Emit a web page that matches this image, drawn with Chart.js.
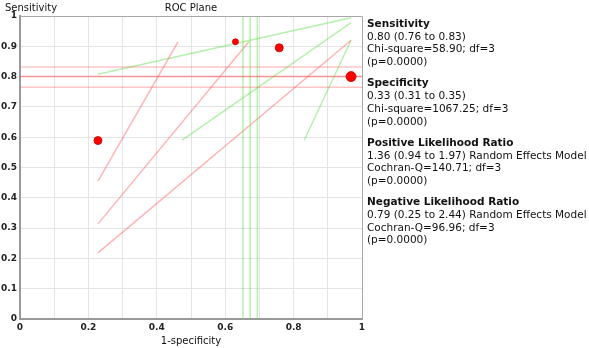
<!DOCTYPE html>
<html>
<head>
<meta charset="utf-8">
<script src="https://cdn.jsdelivr.net/npm/chart.js@4"></script>
<style>
  html, body { margin: 0; padding: 0; background: #fff; }
  #wrap { position: relative; width: 589px; height: 348px; }
  #stats { position: absolute; left: 367px; top: 17px; font-family: "DejaVu Sans", sans-serif; font-size: 10.5px; color: #111; line-height: 12.7px; }
  #stats .blk { margin-bottom: 8.6px; }
  #stats b { font-weight: bold; }
</style>
</head>
<body>
<div id="wrap">
  <canvas id="roc" width="589" height="348"></canvas>
  <div id="stats"></div>
</div>
<script>
// study points (1-specificity, sensitivity)
const studyFpr = [0.228, 0.63, 0.758, 0.968];
const studySens = [0.589, 0.915, 0.895, 0.80];

// pooled sensitivity: estimate, lower, upper
const pooledSens = [0.80, 0.765, 0.832];
// pooled 1-specificity: lower, estimate, upper
const pooledFpr = [0.652, 0.673, 0.694];

// LR+ lines (x0, y0, x1, y1)
const lrPosLines = [
    [0.228, 0.455, 0.462, 0.915],
    [0.228, 0.314, 0.669, 0.915],
    [0.228, 0.218, 0.968, 0.920]
];
// LR- lines
const lrNegLines = [
    [0.228, 0.808, 0.968, 0.994],
    [0.474, 0.590, 0.968, 0.978],
    [0.831, 0.590, 0.968, 0.920]
];

const xTickLabels = ['0', '', '0.2', '', '0.4', '', '0.6', '', '0.8', '', '1'];
const yTickLabels = ['0', '0.1', '0.2', '0.3', '0.4', '0.5', '0.6', '0.7', '0.8', '0.9', '1'];

const statBlocks = [
    ['Sensitivity', '0.80 (0.76 to 0.83)', 'Chi-square=58.90; df=3', '(p=0.0000)'],
    ['Specificity', '0.33 (0.31 to 0.35)', 'Chi-square=1067.25; df=3', '(p=0.0000)'],
    ['Positive Likelihood Ratio', '1.36 (0.94 to 1.97) Random Effects Model', 'Cochran-Q=140.71; df=3', '(p=0.0000)'],
    ['Negative Likelihood Ratio', '0.79 (0.25 to 2.44) Random Effects Model', 'Cochran-Q=96.96; df=3', '(p=0.0000)']
];

const statsEl = document.getElementById('stats');
statBlocks.forEach(lines => {
    const d = document.createElement('div');
    d.className = 'blk';
    d.innerHTML = '<b>' + lines[0] + '</b><br>' + lines.slice(1).join('<br>');
    statsEl.appendChild(d);
});

const RED_LINE = 'rgba(255,90,90,0.45)';
const GREEN_LINE = 'rgba(90,225,70,0.45)';

function segment(seg, color, width) {
    return {
        data: [{ x: seg[0], y: seg[1] }, { x: seg[2], y: seg[3] }],
        showLine: true,
        borderColor: color,
        borderWidth: width,
        pointRadius: 0,
        order: 2
    };
}

const datasets = [];
datasets.push({
    data: studyFpr.map((x, i) => ({ x: x, y: studySens[i] })),
    pointRadius: [4, 3, 4, 5],
    pointBackgroundColor: '#ff0000',
    pointBorderColor: '#c00000',
    pointBorderWidth: 0.8,
    order: 0
});
pooledSens.forEach((s, i) => datasets.push(segment([0, s, 1, s], i === 0 ? 'rgba(255,90,90,0.6)' : 'rgba(255,90,90,0.35)', 1.5)));
pooledFpr.forEach(f => datasets.push(segment([f, 0, f, 1], GREEN_LINE, 1.5)));
lrPosLines.forEach(l => datasets.push(segment(l, RED_LINE, 1.5)));
lrNegLines.forEach(l => datasets.push(segment(l, GREEN_LINE, 1.5)));

const headers = {
    id: 'headers',
    afterDraw(chart) {
        const ctx = chart.ctx;
        const area = chart.chartArea;
        ctx.save();
        // top / right frame
        ctx.strokeStyle = '#a8a8a8';
        ctx.lineWidth = 1;
        ctx.beginPath();
        ctx.moveTo(area.left, area.top + 0.5);
        ctx.lineTo(area.right + 0.5, area.top + 0.5);
        ctx.lineTo(area.right + 0.5, area.bottom);
        ctx.stroke();
        ctx.fillStyle = '#111';
        ctx.font = '10px "DejaVu Sans"';
        ctx.textBaseline = 'middle';
        ctx.textAlign = 'left';
        ctx.fillText('Sensitivity', 5, 8);
        ctx.textAlign = 'center';
        ctx.fillText('ROC Plane', (area.left + area.right) / 2, 8);
        ctx.restore();
    }
};

const tickFont = { family: 'DejaVu Sans', size: 9, weight: 'bold' };

new Chart(document.getElementById('roc'), {
    type: 'scatter',
    data: { datasets: datasets },
    options: {
        responsive: false,
        animation: false,
        layout: { padding: { top: 16, right: 227, bottom: 0, left: 0 } },
        plugins: { legend: { display: false }, tooltip: { enabled: false } },
        scales: {
            x: {
                min: 0, max: 1,
                afterFit: s => { s.height = 29; },
                ticks: { stepSize: 0.1, autoSkip: false, maxRotation: 0, padding: 3, color: '#222', font: tickFont,
                         callback: (v, i) => xTickLabels[i] },
                grid: { color: '#e4e4e4', drawTicks: false, lineWidth: 1 },
                border: { color: '#999', width: 2 },
                title: { display: true, text: '1-specificity', color: '#111', font: { family: 'DejaVu Sans', size: 10 }, padding: { top: 0, bottom: 1 } }
            },
            y: {
                min: 0, max: 1,
                afterFit: s => { s.width = 20; },
                ticks: { stepSize: 0.1, autoSkip: false, padding: 3, color: '#222', font: tickFont,
                         callback: (v, i) => yTickLabels[i] },
                grid: { color: '#e4e4e4', drawTicks: false, lineWidth: 1 },
                border: { color: '#999', width: 2 }
            }
        }
    },
    plugins: [headers]
});
</script>
</body>
</html>
